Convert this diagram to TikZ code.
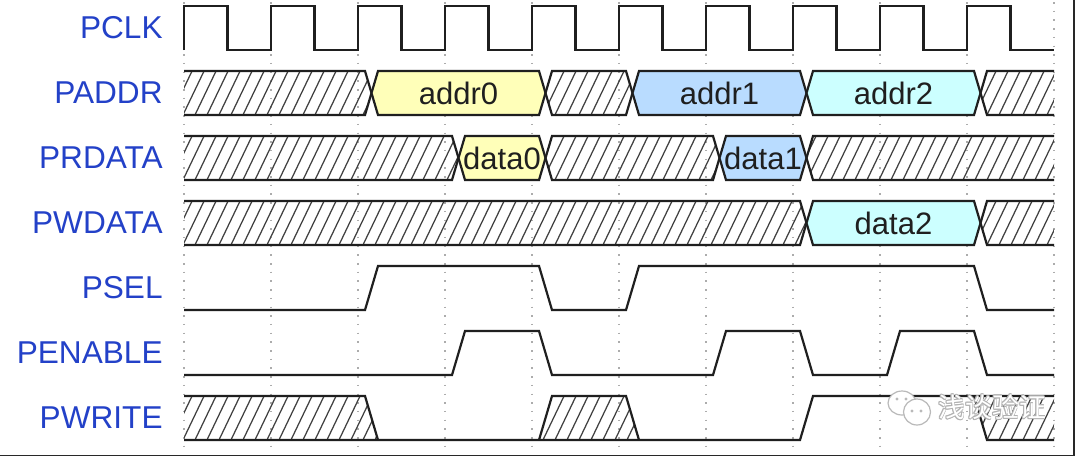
\documentclass[tikz,border=0pt]{standalone}
\usepackage{fontspec}
\setmainfont{Liberation Sans}
\newfontfamily\cjkwm{Noto Sans CJK SC}
\definecolor{lblue}{RGB}{35,65,200}
\definecolor{vyellow}{RGB}{255,255,185}
\definecolor{vblue}{RGB}{185,220,255}
\definecolor{vcyan}{RGB}{204,255,255}
\definecolor{framegray}{RGB}{40,40,40}
\tikzset{
  sig/.style={line width=1.1pt, draw=black!88, line join=miter},
  hatchline/.style={line width=0.62pt, draw=black!75},
  griddot/.style={draw=gray!65, line width=0.9pt, dash pattern=on 0.75pt off 3.6pt},
  siglabel/.style={text=lblue, font=\fontsize{15.8}{19}\selectfont, inner sep=0pt, anchor=east},
  vallabel/.style={text=black!88, font=\fontsize{15.5}{18}\selectfont, inner sep=0pt},
  wmtext/.style={font=\cjkwm\fontsize{13.5}{16}\selectfont, inner sep=0pt},
  wmshape/.style={draw=gray!55, fill=white, line width=0.6pt},
}
\newcommand{\hatchband}[1]{\foreach \k in {0,...,76} \draw[hatchline] ({158+12*\k},{#1+46}) -- ++(23,-48);}
\newcommand{\hatchL}[2]{%
  \begin{scope}\clip (184,#1) -- ({#2-6.5},#1) -- (#2,{#1+22}) -- ({#2-6.5},{#1+44}) -- (184,{#1+44}) -- cycle; \hatchband{#1}\end{scope}
  \draw[sig] (184,#1) -- ({#2-6.5},#1) -- (#2,{#1+22}) -- ({#2-6.5},{#1+44}) -- (184,{#1+44});}
\newcommand{\hatchM}[3]{%
  \begin{scope}\clip (#2,{#1+22}) -- ({#2+6.5},#1) -- ({#3-6.5},#1) -- (#3,{#1+22}) -- ({#3-6.5},{#1+44}) -- ({#2+6.5},{#1+44}) -- cycle; \hatchband{#1}\end{scope}
  \draw[sig] (#2,{#1+22}) -- ({#2+6.5},#1) -- ({#3-6.5},#1) -- (#3,{#1+22}) -- ({#3-6.5},{#1+44}) -- ({#2+6.5},{#1+44}) -- cycle;}
\newcommand{\hatchR}[2]{%
  \begin{scope}\clip (1054,#1) -- ({#2+6.5},#1) -- (#2,{#1+22}) -- ({#2+6.5},{#1+44}) -- (1054,{#1+44}) -- cycle; \hatchband{#1}\end{scope}
  \draw[sig] (1054,#1) -- ({#2+6.5},#1) -- (#2,{#1+22}) -- ({#2+6.5},{#1+44}) -- (1054,{#1+44});}
\newcommand{\busval}[6]{%
  \draw[sig, fill=#4] (#2,{#1+22}) -- ({#2+6.5},#1) -- ({#3-6.5},#1) -- (#3,{#1+22}) -- ({#3-6.5},{#1+44}) -- ({#2+6.5},{#1+44}) -- cycle;
  \node[vallabel] (#6) at ({(#2+#3)/2},{#1+22}) {#5};}
\begin{document}
\begin{tikzpicture}[x=0.5pt, y=-0.5pt]
\useasboundingbox (0,0) rectangle (1080,457);
\fill[white] (0,0) rectangle (1080,457);
% grid
\foreach \k in {0,...,10} \draw[griddot] ({184+87*\k},2) -- ({184+87*\k},452);
% labels
\node[siglabel] (lpclk) at (163,28) {PCLK};
\node[siglabel] (lpaddr) at (163,93) {PADDR};
\node[siglabel] (lprdata) at (163,158) {PRDATA};
\node[siglabel] (lpwdata) at (163,223) {PWDATA};
\node[siglabel] (lpsel) at (163,288) {PSEL};
\node[siglabel] (lpenable) at (163,353) {PENABLE};
\node[siglabel] (lpwrite) at (163,418) {PWRITE};
% PCLK
\draw[sig] (184,50) \foreach \k in {0,...,9} { -- ({184+87*\k},50) -- ({184+87*\k},6) -- ({227.5+87*\k},6) -- ({227.5+87*\k},50) } -- (1054,50);
% PADDR
\hatchL{71}{371.5}
\busval{71}{371.5}{545.5}{vyellow}{addr0}{addr0}
\hatchM{71}{545.5}{632.5}
\busval{71}{632.5}{806.5}{vblue}{addr1}{addr1}
\busval{71}{806.5}{980.5}{vcyan}{addr2}{addr2}
\hatchR{71}{980.5}
% PRDATA
\hatchL{136}{458.5}
\busval{136}{458.5}{545.5}{vyellow}{data0}{data0}
\hatchM{136}{545.5}{719.5}
\busval{136}{719.5}{806.5}{vblue}{data1}{data1}
\hatchR{136}{806.5}
% PWDATA
\hatchL{201}{806.5}
\busval{201}{806.5}{980.5}{vcyan}{data2}{data2}
\hatchR{201}{980.5}
% PSEL
\draw[sig] (184,310) -- (365,310) -- (378,266) -- (539,266) -- (552,310) -- (626,310) -- (639,266) -- (974,266) -- (987,310) -- (1054,310);
% PENABLE
\draw[sig] (184,375) -- (452,375) -- (465,331) -- (539,331) -- (552,375) -- (713,375) -- (726,331) -- (800,331) -- (813,375) -- (887,375) -- (900,331) -- (974,331) -- (987,375) -- (1054,375);
% PWRITE
\begin{scope}\clip (184,396) -- (365,396) -- (378,440) -- (184,440) -- cycle; \hatchband{396}\end{scope}
\begin{scope}\clip (539,440) -- (552,396) -- (626,396) -- (639,440) -- cycle; \hatchband{396}\end{scope}
\begin{scope}\clip (974,396) -- (1054,396) -- (1054,440) -- (987,440) -- cycle; \hatchband{396}\end{scope}
\draw[sig] (184,396) -- (365,396) -- (378,440);
\draw[sig] (184,440) -- (800,440) -- (813,396) -- (1054,396);
\draw[sig] (539,440) -- (552,396) -- (626,396) -- (639,440);
\draw[sig] (974,396) -- (987,440) -- (1054,440);
% watermark
\draw[wmshape] (902,403) ellipse (14 and 12);
\draw[wmshape] (917,412) ellipse (13.5 and 13);
\fill[gray!55] (897,399) circle (1.6) (906,399) circle (1.6) (912,411) circle (1.6) (921,411) circle (1.6);
\foreach \dx/\dy in {0.9/0,-0.9/0,0/0.9,0/-0.9,0.7/0.7,-0.7/0.7,0.7/-0.7,-0.7/-0.7}
  \node[wmtext, text=gray!60] at ({992+\dx},{407+\dy}) {浅谈验证};
\node[wmtext, text=white] (wm) at (992,407) {浅谈验证};
% frame
\draw[framegray, line width=0.8pt] (0,455.5) -- (1074,455.5) -- (1074,0);
\end{tikzpicture}
\end{document}
